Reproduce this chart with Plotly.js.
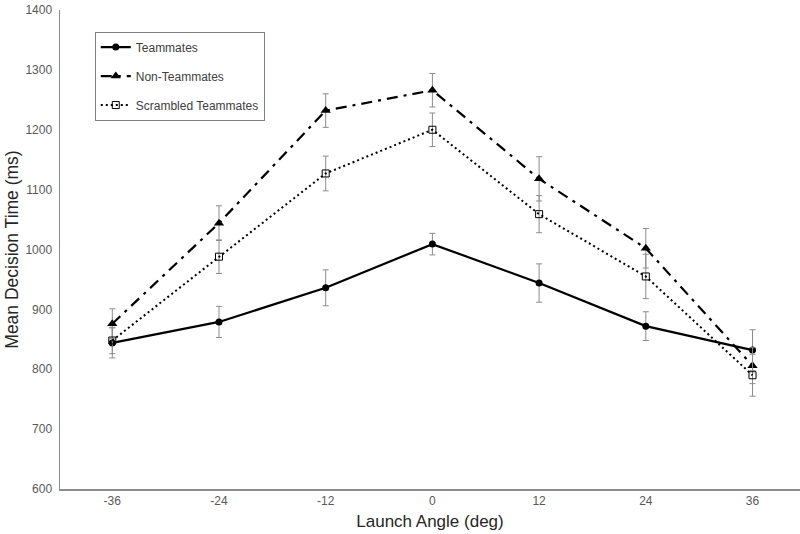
<!DOCTYPE html>
<html>
<head>
<meta charset="utf-8">
<script src="https://cdn.plot.ly/plotly-3.0.1.min.js"></script>
<style>html,body{margin:0;padding:0;background:#fff;}#chart{width:800px;height:534px;}</style>
</head>
<body>
<div id="chart"></div>
<script>
const angles = ["-36", "-24", "-12", "0", "12", "24", "36"];
const teammates = [844, 879, 936, 1009, 944, 872, 832];
const teammatesErr = [25, 26, 30, 18, 32, 24, 34];
const nonTeammates = [876, 1044, 1232, 1266, 1118, 1002, 806];
const nonTeammatesErr = [25, 29, 28, 28, 37, 33, 30];
const scrambled = [848, 988, 1127, 1200, 1059, 955, 790];
const scrambledErr = [22, 28, 29, 28, 31, 37, 35];

const errStyle = (arr) => ({type: 'data', array: arr, visible: true, color: '#8c8c8c', thickness: 1, width: 3});

const traces = [
  {
    x: angles, y: teammates, name: 'Teammates', type: 'scatter', mode: 'lines+markers',
    line: {color: '#000', width: 2.2, dash: 'solid'},
    marker: {symbol: 'circle', size: 7, color: '#000'},
    error_y: errStyle(teammatesErr), legendgroup: 'a'
  },
  {
    x: angles, y: nonTeammates, name: 'Non-Teammates', type: 'scatter', mode: 'lines+markers',
    line: {color: '#000', width: 2.2, dash: '11px,6px,3px,6px'},
    marker: {symbol: 'triangle-up', size: 9, color: '#000'},
    error_y: errStyle(nonTeammatesErr), legendgroup: 'b'
  },
  {
    x: angles, y: scrambled, name: 'Scrambled Teammates', type: 'scatter', mode: 'lines+markers',
    line: {color: '#000', width: 2, dash: '2px,3px'},
    marker: {symbol: 'square-open', size: 7, color: '#000', line: {width: 1, color: '#000'}},
    error_y: errStyle(scrambledErr), legendgroup: 'c'
  }
];

const layout = {
  width: 800, height: 534,
  margin: {l: 60, r: 0, t: 10, b: 45},
  paper_bgcolor: '#fff', plot_bgcolor: '#fff',
  font: {family: 'Liberation Sans, Arial, sans-serif', color: '#404040', size: 12},
  showlegend: true,
  legend: {
    x: 0.047, y: 0.955, xanchor: 'left', yanchor: 'top',
    bordercolor: '#7f7f7f', borderwidth: 1, bgcolor: '#fff',
    font: {size: 12, color: '#404040'},
    tracegroupgap: 10
  },
  xaxis: {
    type: 'category', range: [-0.49, 6.445],
    showgrid: false, zeroline: false, showline: true, linecolor: '#8c8c8c', linewidth: 1.5,
    ticks: '', tickfont: {size: 12, color: '#595959'},
    title: {text: 'Launch Angle (deg)', font: {size: 17, color: '#262626'}, standoff: 8}
  },
  yaxis: {
    range: [600, 1400], dtick: 100,
    showgrid: false, zeroline: false, showline: true, linecolor: '#8c8c8c', linewidth: 1.5,
    ticks: 'outside', ticklen: 4, tickcolor: '#fff', tickfont: {size: 12, color: '#595959'},
    title: {text: 'Mean Decision Time (ms)', font: {size: 17.5, color: '#262626'}, standoff: 2}
  }
};

Plotly.newPlot('chart', traces, layout, {displayModeBar: false, staticPlot: true});
</script>
</body>
</html>
